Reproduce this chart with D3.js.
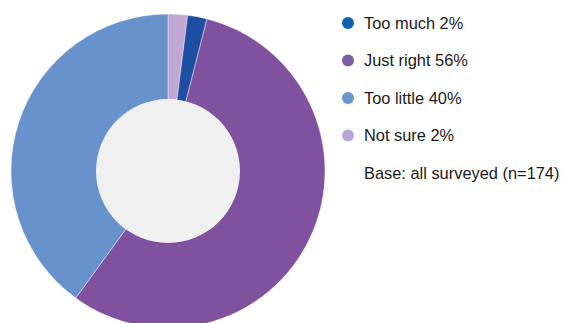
<!DOCTYPE html>
<html>
<head>
<meta charset="utf-8">
<script src="https://cdn.jsdelivr.net/npm/d3@7"></script>
<style>
  html, body { margin: 0; padding: 0; background: #fff; }
  svg { display: block; }
  text { font-family: "Liberation Sans", Arial, sans-serif; fill: #1a1a1a; }
</style>
</head>
<body>
<svg id="chart" width="563" height="323"></svg>
<script>
// Survey responses, listed clockwise from 12 o'clock
const categories = ["Not sure", "Too much", "Just right", "Too little"];
const values = [2, 2, 56, 40];
const sliceColors = ["#c2a7d2", "#1f4fa3", "#7f519f", "#6892cb"];

// Legend order and swatch colours
const legendOrder = ["Too much", "Just right", "Too little", "Not sure"];
const legendColors = ["#0b63b0", "#7b5fa9", "#6a96cc", "#b6a7d4"];
const baseNote = "Base: all surveyed (n=174)";

const svg = d3.select("#chart");
const cx = 168, cy = 171, outerR = 157, innerR = 72;

const pie = d3.pie().sort(null).value(d => d.value);
const arc = d3.arc().innerRadius(0).outerRadius(outerR);
const data = categories.map((c, i) => ({ name: c, value: values[i], color: sliceColors[i] }));

const g = svg.append("g").attr("transform", `translate(${cx},${cy})`);
g.selectAll("path")
  .data(pie(data))
  .join("path")
  .attr("d", arc)
  .attr("fill", d => d.data.color)
  .attr("stroke", "#fff")
  .attr("stroke-width", 0.4);

// Light centre disc
g.append("circle").attr("r", innerR).attr("fill", "#f0f0f0");

// Legend
const valueOf = name => values[categories.indexOf(name)];
const legendY = d3.scalePoint().domain(d3.range(legendOrder.length + 1)).range([23, 173]);
const legend = svg.append("g");
legendOrder.forEach((name, i) => {
  const y = legendY(i);
  legend.append("circle").attr("cx", 348).attr("cy", y).attr("r", 6).attr("fill", legendColors[i]);
  legend.append("text").attr("x", 364).attr("y", y).attr("dy", "0.36em")
    .attr("font-size", 16.4).text(`${name} ${valueOf(name)}%`);
});
legend.append("text").attr("x", 364).attr("y", legendY(legendOrder.length)).attr("dy", "0.36em")
  .attr("font-size", 16.4).text(baseNote);
</script>
</body>
</html>
